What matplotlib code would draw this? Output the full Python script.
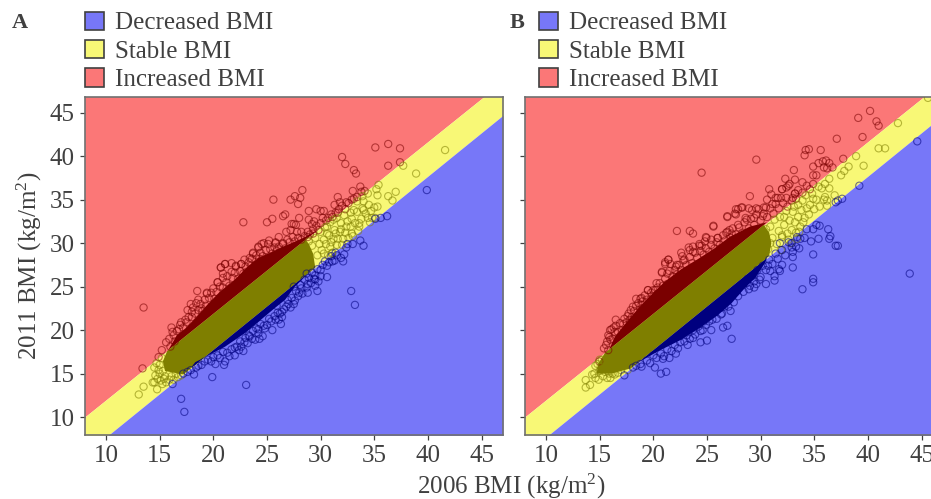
import matplotlib
matplotlib.use('Agg')
import matplotlib.pyplot as plt
from matplotlib.patches import Patch

plt.rcParams['font.family'] = ['Liberation Serif', 'DejaVu Serif']
plt.rcParams['mathtext.fontset'] = 'custom'
plt.rcParams['mathtext.rm'] = 'Liberation Serif'
plt.rcParams['mathtext.default'] = 'rm'

# class boundaries
band_x = [8, 47]
band_upper = [10.0, 48.6]
band_lower = [5.7, 44.7]

legend_labels = ['Decreased BMI', 'Stable BMI', 'Increased BMI']
ticks = [10, 15, 20, 25, 30, 35, 40, 45]

# panel A points
a_inc_x = [13.5, 13.4, 15.2, 14.9, 18.5, 20.7, 21.1, 16.1, 16.9, 17.4, 17.9, 18.4, 18.6, 19.2, 19.4, 20.4, 20.9, 21.7, 22.1, 22.6,
           23.3, 23.7, 24.2, 24.5, 25.1, 25.8, 26.5, 18.0, 18.0, 16.3, 16.4, 16.0, 18.9, 35.1, 36.3, 37.4, 32.0, 32.3, 33.1, 33.3,
           36.3, 37.4, 33.7, 34.1, 28.3, 25.6, 27.2, 27.6, 28.1, 27.9, 28.9, 29.6, 30.0, 30.3, 31.6, 31.8, 32.4, 32.9, 33.1, 31.0,
           31.4, 31.6, 26.7, 26.5, 25.5, 25.0, 22.8, 28.0, 28.9, 29.4, 29.2, 30.0, 27.5, 27.3, 27.7, 26.8, 27.2, 27.8, 28.2, 28.8,
           29.3, 26.1, 25.8, 26.5, 25.2, 24.7, 24.2, 23.7, 22.6, 22.1, 21.1, 20.7, 23.4, 22.9, 21.7, 20.9, 20.4, 20.0, 19.4,
           15.6, 15.9, 16.2, 16.6, 16.8, 17.0, 17.2, 17.5, 17.7, 17.6, 18.1, 18.3, 18.6, 18.8, 19.0, 19.3, 19.6, 19.8, 20.1, 20.3,
           20.6, 20.9, 21.2, 21.3, 21.5, 21.8, 22.0, 22.3, 22.5, 22.8, 23.0, 23.1, 23.5, 23.6, 23.9, 24.0, 24.3, 24.4, 24.6, 24.9,
           25.0, 25.3, 25.5, 25.7, 25.9, 26.1, 26.3, 26.7, 26.9, 27.1, 27.4, 27.6, 27.9, 28.2, 28.5, 28.8, 29.0, 29.3, 29.6, 29.8,
           30.2, 30.5, 30.7, 31.1, 31.3, 31.7, 32.0, 32.3, 32.6, 33.0, 33.4, 33.8]
a_inc_y = [22.6, 15.6, 17.7, 16.9, 24.5, 27.2, 27.6, 20.3, 20.6, 21.2, 23.0, 23.1, 23.5, 23.5, 24.3, 25.5, 26.5, 27.7, 27.3, 27.6,
           27.8, 28.8, 29.6, 29.9, 29.9, 30.1, 29.9, 22.1, 21.5, 19.4, 18.7, 18.1, 22.5, 41.0, 41.4, 40.9, 39.9, 39.1, 38.4, 38.0,
           38.9, 39.3, 36.5, 36.0, 36.1, 35.0, 35.0, 35.4, 35.2, 34.5, 33.7, 33.9, 33.7, 33.7, 35.3, 34.7, 34.7, 35.0, 35.1, 33.3,
           33.5, 33.5, 33.3, 33.1, 32.8, 32.4, 32.4, 32.9, 32.7, 32.5, 32.2, 32.3, 32.2, 32.2, 32.1, 31.3, 31.5, 31.3, 31.3, 31.3,
           31.1, 30.7, 30.0, 30.0, 30.3, 30.0, 29.5, 28.9, 27.6, 27.4, 27.6, 27.2, 28.3, 28.1, 26.7, 26.0, 25.5, 24.8, 24.2,
           18.6, 19.0, 19.8, 19.9, 20.1, 20.9, 20.3, 20.9, 21.5, 22.3, 22.6, 21.9, 22.3, 23.0, 22.2, 22.8, 23.7, 24.3, 23.6, 24.4,
           25.0, 24.9, 25.5, 26.2, 25.1, 26.0, 26.6, 25.9, 26.8, 26.5, 27.3, 26.7, 27.4, 28.2, 27.5, 28.6, 28.2, 28.9, 28.5, 29.2,
           28.3, 29.3, 28.8, 29.5, 29.1, 29.6, 29.0, 29.4, 30.4, 30.1, 30.7, 30.2, 30.6, 30.4, 30.8, 30.7, 31.0, 31.6, 32.0, 31.5,
           32.9, 32.6, 32.9, 33.0, 34.4, 33.9, 34.3, 33.9, 34.6, 36.0, 35.3, 35.9]
a_sta_x = [41.6, 37.7, 38.9, 37.0, 35.4, 35.2, 35.3, 34.4, 33.9, 36.3, 36.7, 34.0, 33.4, 33.9, 34.0, 32.8, 33.1, 35.3, 35.0, 34.7,
           34.4, 34.8, 35.1, 33.6, 33.6, 32.8, 31.9, 31.2, 30.6, 31.3, 31.8, 32.4, 32.9, 32.1, 31.2, 30.6, 31.5, 30.9, 30.3, 30.7,
           29.9, 31.05, 13.05, 13.5, 14.76, 14.35, 14.5, 15.25, 14.5, 14.6, 15.0, 14.7, 15.5, 16.1, 16.5,
           28.9, 29.2, 29.5, 29.7, 30.0, 30.1, 30.3, 30.4, 30.5, 30.8, 30.9, 31.0, 31.1, 31.4, 31.5, 31.6, 31.9, 32.0, 32.2, 32.3,
           32.5, 32.6, 32.9, 33.0, 33.2, 33.4, 33.5, 33.8, 34.2, 34.5, 34.6, 15.0, 15.2, 15.3, 15.4, 15.6, 15.9, 16.3, 16.7, 17.0,
           14.9, 15.1, 14.8]
a_sta_y = [40.7, 38.9, 38.0, 35.9, 36.7, 36.2, 35.5, 35.7, 35.4, 35.4, 34.9, 34.8, 34.8, 34.0, 33.8, 33.5, 33.8, 34.2, 34.1, 33.7,
           32.9, 32.9, 32.9, 32.3, 31.9, 31.9, 32.3, 32.7, 31.9, 31.5, 31.3, 31.9, 31.1, 30.5, 30.5, 31.1, 29.8, 29.6, 28.8, 28.6,
           29.9, 28.8, 12.6, 13.5, 13.2, 13.98, 14.0, 13.8, 15.7, 14.8, 15.0, 16.2, 14.7, 14.7, 14.95,
           30.2, 29.7, 30.6, 28.6, 31.3, 29.2, 30.4, 31.8, 29.9, 30.9, 32.4, 30.1, 28.9, 31.1, 32.9, 30.5, 31.6, 29.8, 33.2, 31.2,
           32.5, 30.6, 32.8, 30.8, 32.3, 33.6, 31.4, 32.8, 33.4, 34.4, 32.4, 16.0, 16.8, 15.3, 14.4, 14.0, 14.3, 14.3, 14.6, 14.8,
           15.4, 14.2, 14.4]
a_dec_x = [23.06, 17.0, 17.3, 16.2, 19.9, 18.2, 17.6, 17.2, 18.6, 19.2, 20.2, 21.0, 21.1, 22.0, 22.8, 22.2, 22.6, 23.2, 23.9, 24.3,
           24.6, 25.5, 26.3, 26.1, 24.8, 27.0, 26.4, 27.5, 25.9, 24.2, 23.4, 39.9, 32.85, 33.2, 36.2, 35.6, 35.1, 34.0, 33.7, 33.0,
           32.5, 32.2, 31.9, 32.1, 31.3, 31.4, 30.6, 29.7, 29.8, 29.5, 28.8, 28.0, 29.5, 30.0, 31.1, 30.6, 29.5, 28.8, 28.7, 28.1, 27.5,
           17.9, 18.4, 18.9, 19.5, 19.8, 20.0, 20.4, 20.6, 20.9, 21.3, 21.5, 21.7, 22.0, 22.4, 22.5, 22.9, 23.0, 23.3, 23.6, 23.7,
           24.0, 24.2, 24.4, 24.7, 25.0, 25.2, 25.4, 25.7, 25.8, 26.0, 26.2, 26.4, 26.6, 26.8, 26.9, 27.2, 27.3, 27.6, 27.7, 27.9,
           28.2, 28.3, 28.5, 28.7, 28.9, 29.1, 29.2, 29.4, 29.7, 30.0, 30.2, 30.4, 30.8, 31.0, 31.5, 32.4]
a_dec_y = [13.7, 12.1, 10.6, 13.8, 14.6, 14.9, 15.2, 15.0, 15.9, 16.4, 16.1, 16.0, 16.4, 17.1, 17.6, 18.1, 18.1, 18.5, 18.9, 19.0,
           19.3, 20.0, 20.7, 21.2, 20.2, 23.0, 22.1, 23.0, 22.8, 20.1, 19.3, 36.1, 24.5, 22.9, 33.1, 32.9, 32.8, 29.7, 30.3, 29.9,
           29.9, 28.7, 28.3, 27.9, 28.0, 28.9, 26.1, 24.5, 25.6, 25.1, 24.3, 24.3, 25.8, 26.2, 27.9, 27.4, 26.3, 25.3, 26.5, 25.2, 25.0,
           15.4, 15.7, 16.0, 16.6, 16.4, 16.9, 17.1, 16.8, 17.5, 17.4, 17.0, 17.8, 18.0, 17.7, 18.7, 18.6, 19.1, 19.4, 19.0, 19.9,
           20.2, 19.6, 20.7, 20.5, 20.6, 21.3, 21.0, 21.6, 21.2, 22.0, 21.9, 21.5, 22.4, 22.7, 23.5, 22.6, 23.7, 23.4, 24.5, 23.9,
           24.8, 24.2, 25.8, 24.9, 26.0, 25.4, 26.6, 25.9, 27.0, 26.9, 27.5, 27.9, 27.8, 28.5, 28.6, 29.5]

# outlines of the parts of panel A where the rings merge to a solid colour
a_core_inc_x = [15.8, 16.6, 17.4, 18.5, 19.5, 20.6, 22.0, 23.2, 24.2, 25.5, 26.9, 28.4, 29.7]
a_core_inc_y = [17.7, 19.4, 20.2, 21.6, 23.0, 24.4, 25.8, 27.3, 28.3, 29.0, 29.8, 30.6, 31.5]
a_core_sta_x = [15.7, 15.3, 15.5, 17.2, 29.5, 29.3, 28.9, 28.6]
a_core_sta_y = [17.6, 16.4, 15.3, 14.9, 27.2, 28.8, 29.9, 30.4]
a_core_dec_x = [18.0, 18.3, 21.1, 23.0, 25.5, 26.7, 27.6, 28.6, 29.6]
a_core_dec_y = [15.7, 16.3, 18.1, 19.7, 22.3, 23.5, 25.0, 26.2, 27.3]

# panel B points
b_inc_x = [40.2, 39.1, 40.8, 41.0, 39.5, 37.1, 37.7, 35.6, 34.5, 34.2, 34.1, 29.6, 24.5, 33.1, 34.9, 35.4, 35.8, 36.1, 36.4, 36.7,
           36.2, 35.9, 32.3, 33.2, 33.9, 32.7, 32.4, 32.0, 30.8, 34.9, 35.2, 34.9, 31.0, 33.2, 29.0, 30.6, 31.4, 31.9, 28.2, 27.7,
           26.9, 27.6, 28.9, 29.6, 30.3, 31.1, 25.6, 28.6, 29.4, 30.2, 27.3, 26.8, 24.9, 26.0, 24.5, 25.4, 22.2, 23.4, 23.7, 25.6,
           26.9, 27.7, 27.9, 28.3, 24.95, 26.0, 23.7, 23.4, 22.7, 21.4, 21.1, 20.8, 20.3, 19.5, 18.9, 22.1, 22.8, 24.3, 27.1, 27.9,
           28.7, 29.2, 29.8, 30.5, 31.6, 32.4, 33.0, 33.2, 32.6, 32.0, 16.5, 15.7, 15.8, 14.96, 15.97, 16.3, 15.9, 16.2, 17.2, 17.7,
           18.1, 18.4, 18.8, 18.9, 19.5, 20.0, 20.4, 20.8, 21.1, 21.4, 21.6, 21.3, 22.6, 23.3, 23.7, 24.3, 24.8, 22.2,
           15.4, 15.6, 15.8, 16.0, 16.1, 16.4, 16.5, 16.7, 16.9, 17.1, 17.3, 17.5, 17.6, 17.8, 17.9, 18.0, 18.2, 18.4, 18.6, 18.8,
           19.0, 19.2, 19.4, 19.6, 19.8, 20.0, 20.2, 20.4, 20.6, 20.9, 21.1, 21.3, 21.5, 21.8, 22.0, 22.2, 22.4, 22.6, 22.9, 23.1,
           23.4, 23.6, 23.9, 24.1, 24.4, 24.7, 24.9, 25.2, 25.4, 25.7, 25.9, 26.2, 26.5, 26.7, 26.9, 27.2, 27.4, 27.7, 28.0, 28.3,
           28.5, 28.9, 29.1, 29.4, 29.6, 30.0, 30.3, 30.6, 30.9, 31.2, 31.4, 31.7, 32.1, 32.5, 32.9, 33.3, 33.5, 33.9, 34.3, 34.6]
b_inc_y = [45.2, 44.4, 44.0, 43.5, 42.2, 42.0, 39.7, 40.7, 40.8, 40.7, 40.1, 39.6, 38.1, 38.4, 38.8, 39.2, 39.4, 39.5, 39.2, 38.7,
           38.6, 38.7, 37.4, 37.3, 37.0, 36.8, 36.4, 36.2, 36.2, 37.8, 37.8, 36.8, 35.6, 35.7, 35.4, 35.0, 35.2, 35.2, 34.1, 33.9,
           33.1, 33.4, 34.0, 34.0, 34.1, 34.5, 32.0, 32.9, 32.9, 33.1, 31.1, 31.2, 30.7, 30.6, 29.7, 30.4, 31.4, 31.4, 31.1, 31.9,
           33.0, 33.3, 33.9, 34.1, 30.6, 30.6, 29.6, 29.2, 28.5, 28.1, 27.8, 26.7, 25.4, 24.6, 23.7, 27.3, 28.0, 29.7, 31.5, 32.1,
           32.7, 33.8, 33.9, 34.1, 35.2, 35.2, 35.2, 35.7, 36.6, 36.2, 21.2, 18.7, 17.7, 16.4, 20.0, 20.3, 19.2, 19.0, 20.7, 21.9,
           22.7, 23.6, 23.6, 22.9, 24.6, 24.6, 24.9, 26.6, 27.6, 28.1, 27.6, 26.5, 28.9, 29.5, 29.0, 29.9, 30.2, 27.5,
           17.9, 18.3, 19.4, 18.9, 20.1, 19.8, 20.5, 19.8, 20.8, 20.0, 21.3, 20.9, 21.6, 21.2, 22.3, 21.5, 22.2, 22.8, 23.1, 22.4,
           23.3, 24.0, 23.5, 23.1, 24.3, 23.9, 24.6, 24.2, 25.4, 25.1, 25.9, 25.3, 26.8, 26.2, 26.9, 26.4, 27.5, 26.9, 28.1, 27.5,
           28.4, 27.7, 28.9, 28.3, 29.1, 28.7, 29.4, 29.0, 29.8, 29.4, 30.1, 29.8, 30.9, 30.3, 31.3, 30.6, 31.7, 31.0, 31.8, 31.2,
           32.4, 31.7, 32.8, 32.1, 33.3, 32.6, 33.4, 33.0, 34.0, 33.4, 34.5, 34.0, 34.6, 34.2, 34.9, 35.1, 36.1, 35.8, 36.6, 36.2]
b_sta_x = [45.6, 42.8, 41.0, 41.6, 39.6, 38.9, 38.2, 37.8, 37.5, 36.4, 36.0, 36.4, 35.4, 36.9, 36.2, 35.9, 36.2, 34.2, 34.9, 33.5,
           34.6, 33.8, 33.0, 33.2, 32.2, 33.98, 32.5, 33.4, 32.0, 30.9, 32.8, 31.9, 33.6, 13.7, 14.1, 13.7, 14.5, 14.6, 15.0, 15.7,
           16.2, 17.0, 15.5, 15.1, 17.6,
           30.5, 30.7, 30.9, 31.1, 31.3, 31.5, 31.7, 31.8, 32.0, 32.2, 32.4, 32.6, 32.7, 32.9, 33.1, 33.3, 33.5, 33.7, 33.9, 34.1,
           34.3, 34.5, 34.8, 35.0, 35.2, 35.5, 35.7, 36.0, 14.6, 14.8, 15.0, 15.2, 15.3, 15.5, 15.9, 16.0, 16.4, 16.7, 14.3, 14.9]
b_sta_y = [46.7, 43.8, 40.9, 40.9, 38.9, 40.0, 38.8, 38.3, 37.8, 37.4, 36.8, 36.3, 36.5, 35.5, 34.9, 35.0, 34.3, 35.5, 35.1, 34.4,
           34.4, 33.8, 33.6, 32.4, 33.0, 32.4, 31.1, 30.5, 30.7, 30.0, 30.0, 29.2, 31.3, 14.26, 13.7, 13.4, 15.0, 14.5, 16.6, 14.5,
           15.0, 15.4, 15.2, 15.8, 15.4,
           31.6, 29.3, 31.9, 30.6, 32.7, 29.9, 31.4, 33.0, 30.9, 32.1, 33.7, 30.4, 32.6, 31.5, 34.2, 31.2, 33.0, 31.9, 34.9, 32.9,
           34.0, 33.3, 35.7, 33.9, 35.0, 34.2, 36.3, 35.3, 15.9, 16.1, 15.3, 16.6, 14.7, 16.2, 15.0, 14.5, 14.9, 15.1, 14.9, 14.3]
b_dec_x = [20.15, 20.7, 21.2, 17.3, 18.1, 18.8, 21.5, 21.0, 22.1, 23.2, 24.4, 25.0, 23.7, 25.4, 26.5, 26.9, 27.3, 26.3, 26.6, 27.2,
           25.2, 24.6, 33.9, 34.9, 34.9, 34.9, 33.6, 33.0, 33.0, 33.0, 32.0, 34.7, 35.4, 36.3, 36.5, 36.4, 37.0, 37.2, 33.4, 34.3,
           34.9, 35.2, 35.5, 32.9, 31.8, 31.3, 31.7, 30.9, 31.3, 30.5, 29.4, 29.6, 29.0, 28.8, 28.0, 31.8, 30.0, 30.7, 37.6, 37.2,
           37.0, 39.2, 44.6, 43.9,
           18.4, 18.9, 19.4, 19.7, 20.0, 20.3, 20.7, 20.9, 21.3, 21.7, 22.0, 22.3, 22.5, 22.9, 23.1, 23.4, 23.7, 23.9, 24.2, 24.4,
           24.7, 24.9, 25.2, 25.5, 25.7, 25.9, 26.2, 26.4, 26.7, 27.0, 27.2, 27.5, 27.7, 27.9, 28.2, 28.4, 28.7, 28.9, 29.2, 29.4,
           29.7, 29.9, 30.2, 30.5, 30.8, 31.1, 31.4, 31.6, 32.0, 32.3, 32.6, 32.9, 33.3, 33.7, 34.1]
b_dec_y = [15.7, 15.0, 15.2, 14.8, 15.7, 16.1, 16.8, 17.0, 17.3, 18.3, 18.6, 18.8, 19.1, 20.0, 20.3, 20.5, 19.0, 21.8, 22.7, 22.2,
           21.0, 20.0, 24.7, 25.9, 25.5, 28.7, 29.4, 29.0, 28.4, 27.2, 27.5, 30.2, 30.5, 31.6, 30.8, 30.5, 29.7, 29.7, 30.7, 31.6,
           31.6, 32.1, 32.0, 30.0, 30.0, 25.7, 27.0, 26.8, 26.2, 25.3, 24.9, 25.3, 25.1, 25.9, 24.9, 26.8, 26.1, 27.4, 35.1, 34.9,
           34.7, 36.6, 41.7, 26.5,
           15.9, 15.8, 16.5, 16.2, 17.1, 16.8, 17.3, 16.7, 17.8, 17.6, 18.3, 17.9, 18.6, 18.7, 19.4, 19.0, 20.0, 19.5, 20.4, 19.9,
           21.0, 20.6, 21.7, 21.2, 22.1, 21.3, 22.6, 21.9, 23.2, 22.7, 23.9, 23.2, 24.4, 23.9, 25.1, 24.4, 25.4, 24.7, 26.2, 25.6,
           26.9, 25.8, 27.4, 26.9, 28.1, 27.6, 28.8, 28.2, 29.2, 28.6, 30.1, 29.5, 29.6, 30.5, 30.6]

b_core_inc_x = [15.9, 16.4, 17.3, 18.6, 19.5, 21.1, 22.6, 24.2, 25.7, 27.1, 29.0, 30.6]
b_core_inc_y = [17.8, 19.2, 20.6, 22.5, 23.7, 25.6, 27.0, 28.2, 29.4, 30.7, 31.9, 32.4]
b_core_sta_x = [15.5, 14.9, 14.7, 16.1, 17.9, 30.5, 30.8, 31.0, 30.8, 30.3]
b_core_sta_y = [17.4, 16.2, 15.0, 15.0, 15.6, 28.2, 28.6, 30.0, 31.2, 32.1]
b_core_dec_x = [18.0, 18.9, 20.5, 22.6, 24.5, 26.0, 27.3, 28.5, 29.5, 30.4, 30.6]
b_core_dec_y = [15.7, 16.5, 17.6, 18.9, 20.4, 21.7, 23.1, 24.8, 26.0, 27.7, 28.3]

red_bg = '#fb7777'
yellow_bg = '#f8f876'
blue_bg = '#7777f8'
text_col = '#404040'
spine_col = '#707070'
W, H = 931, 499


def draw_panel(ax, classes, cores):
    ax.fill_between(band_x, band_upper, 60, color=red_bg, lw=0, zorder=1)
    ax.fill_between(band_x, band_lower, band_upper, color=yellow_bg, lw=0, zorder=1)
    ax.fill_between(band_x, 0, band_lower, color=blue_bg, lw=0, zorder=1)
    dark = ['#7a0000', '#7f7f00', '#00007f']
    for (cx, cy), c in zip(cores, dark):
        ax.fill(cx, cy, color=c, lw=0, zorder=2)
    for (px, py), c in zip(classes, dark):
        ax.scatter(px, py, s=27, facecolors='none', edgecolors=c, linewidths=0.8, alpha=0.55, zorder=3)
    ax.set_xlim(8.04, 47)
    ax.set_ylim(8, 46.8)
    ax.set_xticks(ticks)
    ax.set_yticks(ticks)
    ax.tick_params(length=3.5, width=0.9, color=text_col, labelsize=18, labelcolor=text_col, pad=4)
    for s in ax.spines.values():
        s.set_color(spine_col)
        s.set_linewidth(1.2)


fig = plt.figure(figsize=(W / 100, H / 100), dpi=100)
ax_a = fig.add_axes([85 / W, 1 - 434.5 / H, 418 / W, 337.5 / H])
ax_b = fig.add_axes([525 / W, 1 - 434.5 / H, 418 / W, 337.5 / H])

draw_panel(ax_a, [(a_inc_x, a_inc_y), (a_sta_x, a_sta_y), (a_dec_x, a_dec_y)],
           [(a_core_inc_x, a_core_inc_y), (a_core_sta_x, a_core_sta_y), (a_core_dec_x, a_core_dec_y)])
draw_panel(ax_b, [(b_inc_x, b_inc_y), (b_sta_x, b_sta_y), (b_dec_x, b_dec_y)],
           [(b_core_inc_x, b_core_inc_y), (b_core_sta_x, b_core_sta_y), (b_core_dec_x, b_core_dec_y)])
ax_b.tick_params(labelleft=False)

ax_a.set_ylabel('2011 BMI (kg/m$^2$)', fontsize=18, color=text_col, labelpad=4)
fig.text(511 / W, 1 - 486 / H, '2006 BMI (kg/m$^2$)', fontsize=18, color=text_col, ha='center', va='center')

fig.text(12 / W, 1 - 23 / H, 'A', fontsize=16, fontweight='bold', color=text_col, va='center')
fig.text(510 / W, 1 - 23 / H, 'B', fontsize=16, fontweight='bold', color=text_col, va='center')

handles = [Patch(facecolor=c, edgecolor='#404040', linewidth=1.2) for c in [blue_bg, yellow_bg, red_bg]]
for left in [85, 539]:
    fig.legend(handles, legend_labels, loc='upper left', bbox_to_anchor=(left / W, 1 - 11.5 / H), frameon=False,
               fontsize=18, labelcolor=text_col, borderpad=0, borderaxespad=0, handlelength=0.76, handleheight=0.76,
               handletextpad=0.45, labelspacing=0.22)

fig.savefig('out.png', dpi=100)
